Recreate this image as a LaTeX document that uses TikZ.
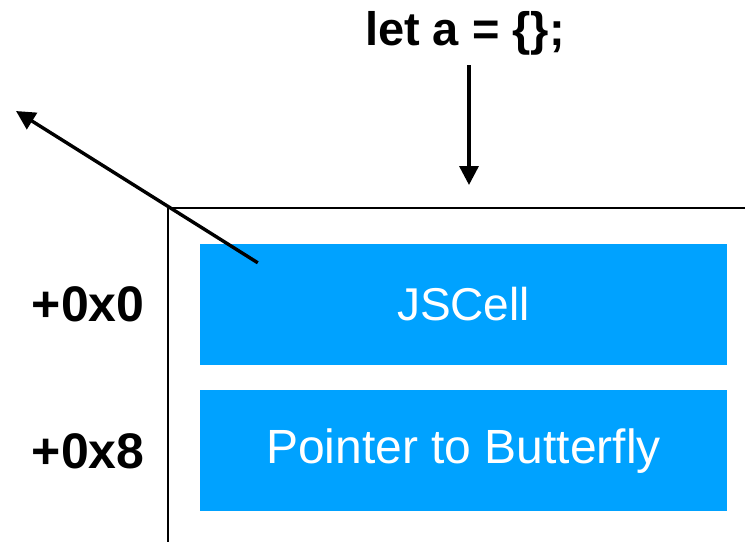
\documentclass[tikz,border=0pt]{standalone}
\usepackage{fontspec}
\setmainfont{Liberation Sans}
\usetikzlibrary{arrows.meta, positioning}
\definecolor{cellBlue}{RGB}{0,162,255}
\definecolor{mainBlack}{gray}{0.0}

\begin{document}
\begin{tikzpicture}[x=1pt, y=-1pt,
    slot/.style={fill=cellBlue, text=white, minimum width=527pt, minimum height=121pt, inner sep=0pt, font=\fontsize{46}{50}\selectfont},
    offset/.style={inner sep=0pt, font=\bfseries\fontsize{50}{54}\selectfont},
    ptr/.style={line width=3.4pt, mainBlack, -{Triangle[length=19pt, width=19pt]}}]
       % オブジェクトのメモリ配置
       \useasboundingbox (0,0) rectangle (745,542);
       \node[font=\bfseries\fontsize{47}{52}\selectfont, inner sep=0pt] (code) at (465,33) {let a = \{\};};

       \coordinate (corner) at (168,208);
       \draw[line width=1.4pt, mainBlack] (745,208) -- (corner) -- (168,542);

       \node[slot] (cell) at (463.5,304.5) {JSCell};
       \node[slot, below=25pt of cell, font=\fontsize{48}{52}\selectfont] (butterfly) {Pointer to Butterfly};

       \node[offset, left=55pt of cell] {+0x0};
       \node[offset, left=55pt of butterfly] {+0x8};

       \coordinate (entry) at (469,185);
       \coordinate (out) at (16,111);
       \draw[ptr] (469,65) -- (entry);
       \draw[ptr] ([xshift=58pt, yshift=-19pt]cell.north west) -- (out);
   \end{tikzpicture}
\end{document}
